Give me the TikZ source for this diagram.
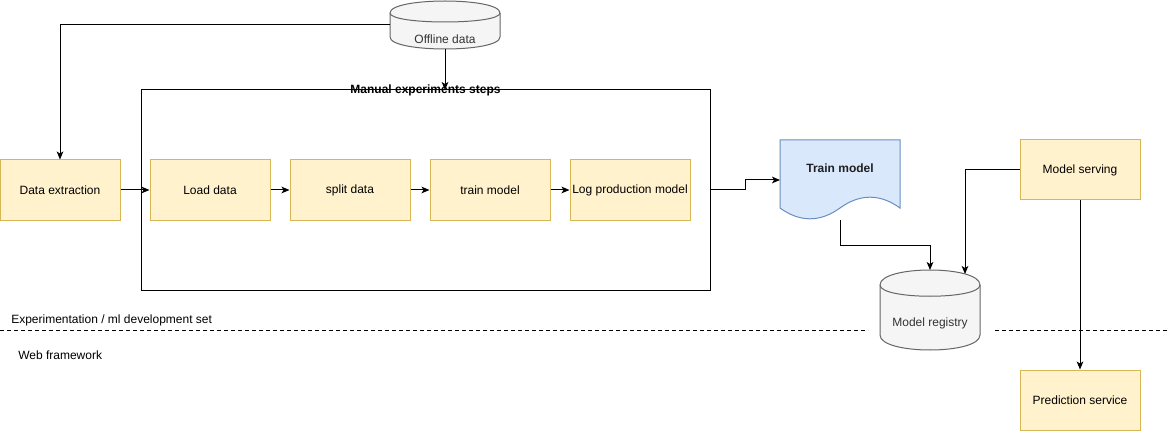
\documentclass[tikz,border=0pt]{standalone}
\usepackage{fontspec}
\setmainfont{Liberation Sans}
\usetikzlibrary{arrows.meta,calc}
\definecolor{ybox}{HTML}{FFF2CC}
\definecolor{yline}{HTML}{D6B656}
\definecolor{bbox}{HTML}{DAE8FC}
\definecolor{bline}{HTML}{6C8EBF}
\definecolor{gbox}{HTML}{F5F5F5}
\definecolor{gline}{HTML}{666666}
\definecolor{gtext}{HTML}{333333}
\tikzset{
  stepbox/.style={draw=yline,fill=ybox,line width=0.75pt,minimum width=90pt,minimum height=45pt,inner sep=0pt,font=\fontsize{9}{11}\selectfont},
  conn/.style={line width=0.75pt,-{Stealth[length=6pt,width=5pt,inset=1.5pt]}},
  cyl/.style={draw=gline,fill=gbox,line width=0.75pt},
  txt/.style={font=\fontsize{9}{11}\selectfont,inner sep=0pt},
}
\begin{document}
\begin{tikzpicture}[x=0.75pt,y=-0.75pt]
\useasboundingbox (0,0) rectangle (1167,431);
\fill[white] (0,0) rectangle (1167,431);

% dashed separator
\draw[line width=0.75pt,dash pattern=on 3pt off 2.25pt] (0,330) -- (868,330);
\draw[line width=0.75pt,dash pattern=on 3pt off 2.25pt] (995,330) -- (1167,330);
\node[txt,anchor=west] (explabel) at (11,320) {Experimentation / ml development set};
\node[txt,anchor=west] (weblabel) at (18,355) {Web framework};

% offline data cylinder
\draw[cyl] (390,13) .. controls (390,-3) and (500,-3) .. (500,13) -- (500,37)
  .. controls (500,53) and (390,53) .. (390,37) -- cycle;
\draw[draw=gline,line width=0.75pt] (390,13) .. controls (390,25) and (500,25) .. (500,13);
\node[txt,text=gtext] (offline) at (445,39) {Offline data};
\coordinate (offL) at (390,25);
\coordinate (offB) at (445,49);

% container
\node[draw,line width=0.75pt,minimum width=426.75pt,minimum height=150pt,inner sep=0pt] (cont) at (425.5,190) {};
\node[txt,font=\fontsize{9}{11}\selectfont\bfseries] (contlabel) at (425.5,90.5) {Manual experiments steps};
\coordinate (contT) at (445,90);

% step boxes
\node[stepbox] (dext) at (60,190) {Data extraction};
\node[stepbox] (load) at (210,190) {Load data};
\node[stepbox] (split) at (350,190) {split data};
\node[stepbox] (trainm) at (490,190) {train model};
\node[stepbox] (logp) at (630,190) {Log production model};

% train model document
\draw[draw=bline,fill=bbox,line width=0.75pt] (780,140) -- (900,140) -- (900,208)
  .. controls (880,193.6) and (860,193.6) .. (840,208)
  .. controls (820,222.4) and (800,222.4) .. (780,208) -- cycle;
\node[txt,font=\fontsize{9}{11}\selectfont\bfseries,text=gtext!60!black] (train) at (840,168) {Train model};
\coordinate (trainIn) at (780,180);
\coordinate (trainOut) at (840,220);

% model registry cylinder
\draw[cyl] (880,285) .. controls (880,265) and (980,265) .. (980,285) -- (980,335)
  .. controls (980,355) and (880,355) .. (880,335) -- cycle;
\draw[draw=gline,line width=0.75pt] (880,285) .. controls (880,300) and (980,300) .. (980,285);
\node[txt,text=gtext] (registry) at (930,323) {Model registry};
\coordinate (regA) at (930,270);
\coordinate (regB) at (965,274);

% serving
\node[stepbox] (serve) at (1080,170) {Model serving};
\node[stepbox] (pred) at (1080,400) {Prediction service};

% connectors
\draw[conn] (offL) -| (dext.north);
\draw[conn] (offB) -- (contT);
\draw[conn] (dext.east) -- (load.west);
\draw[conn] (load.east) -- (split.west);
\draw[conn] (split.east) -- (trainm.west);
\draw[conn] (trainm.east) -- (logp.west);
\draw[conn] (cont.east) -- ++(35,0) |- (trainIn);
\draw[conn] (trainOut) -- ++(0,25) -| (regA);
\draw[conn] (serve.west) -| (regB);
\draw[conn] (serve.south) -- (pred.north);
\end{tikzpicture}
\end{document}
